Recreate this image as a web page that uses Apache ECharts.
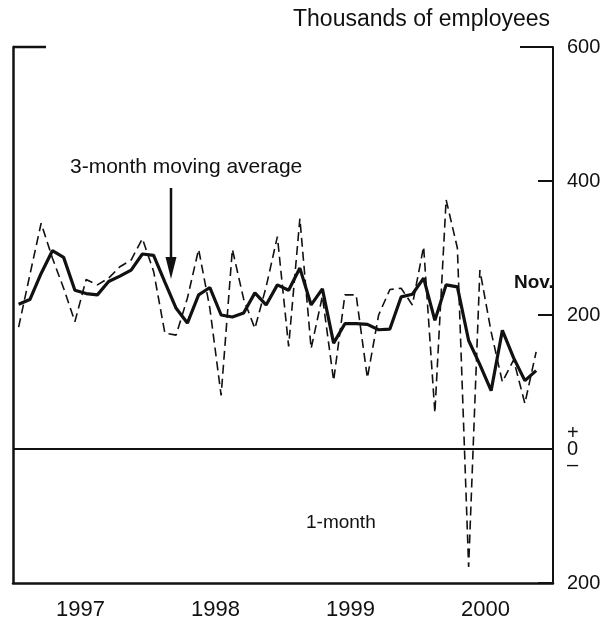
<!DOCTYPE html>
<html>
<head>
<meta charset="utf-8">
<script src="https://cdn.jsdelivr.net/npm/echarts@6/dist/echarts.min.js"></script>
<style>
  html, body { margin: 0; padding: 0; background: #fff; }
  #chart { width: 612px; height: 617px; }
</style>
</head>
<body>
<div id="chart"></div>
<script>
// monthly, Jan 1997 .. Dec 2000 (Dec 2000 not yet reported)
const months = []
for (let y = 1997; y <= 2000; y++) {
  for (let m = 1; m <= 12; m++) months.push(y + '-' + m)
}
const years = ['1997', '1998', '1999', '2000']

// 1-month change, thousands of employees
const oneMonth = [
  182, 260, 337, 285, 240, 190, 253, 245, 255, 272, 282, 314,
  265, 173, 170, 225, 298, 210, 80, 298, 224, 180, 242, 317,
  153, 344, 150, 228, 102, 230, 230, 106, 200, 238, 240, 215,
  302, 54, 372, 300, -176, 267, 175, 100, 133, 68, 145, null
]

// 3-month moving average
const threeMonth = [
  216, 223, 262, 296, 286, 237, 232, 230, 250, 258, 267, 291,
  289, 249, 210, 188, 230, 241, 200, 197, 203, 233, 215, 245,
  237, 270, 215, 239, 158, 187, 187, 186, 178, 179, 227, 231,
  255, 192, 245, 242, 162, 126, 87, 177, 136, 102, 117, null
]

const yTicks = { min: -200, max: 600, step: 200 }

const font = '"Liberation Sans", Arial, sans-serif'
const ink = '#111'

const chart = echarts.init(document.getElementById('chart'))

chart.setOption({
  animation: false,
  grid: { left: 13, right: 59, top: 47, bottom: 34, outerBoundsMode: 'none' },
  xAxis: [
    {
      type: 'category',
      data: months,
      boundaryGap: true,
      axisLine: { onZero: false, lineStyle: { color: ink, width: 2.5 } },
      axisTick: {
        inside: true,
        length: 11,
        interval: (i) => i % 12 === 0,
        lineStyle: { color: ink, width: 2 }
      },
      axisLabel: { show: false },
      splitLine: { show: false }
    },
    {
      type: 'category',
      data: years,
      position: 'bottom',
      boundaryGap: true,
      axisLine: { show: false, onZero: false },
      axisTick: { show: false },
      axisLabel: { color: ink, fontFamily: font, fontSize: 22, margin: 16 },
      splitLine: { show: false }
    }
  ],
  yAxis: [
    {
      type: 'value',
      position: 'right',
      min: yTicks.min,
      max: yTicks.max,
      interval: yTicks.step,
      axisLine: { show: true, lineStyle: { color: ink, width: 2 } },
      axisTick: { show: true, inside: true, length: 15, lineStyle: { color: ink, width: 2 } },
      axisLabel: {
        color: ink,
        fontFamily: font,
        fontSize: 20,
        margin: 14,
        lineHeight: 16,
        formatter: (v) => (v === 0 ? '+\n0\n\u2013' : String(Math.abs(v)))
      },
      splitLine: { show: false }
    },
    {
      type: 'value',
      position: 'left',
      min: yTicks.min,
      max: yTicks.max,
      interval: yTicks.step,
      axisLine: { show: true, lineStyle: { color: ink, width: 2.5 } },
      axisTick: { show: false },
      axisLabel: { show: false },
      splitLine: { show: false }
    }
  ],
  series: [
    {
      name: '1-month',
      type: 'line',
      data: oneMonth,
      symbol: 'none',
      lineStyle: { color: ink, width: 1.6, type: [9, 5] },
      markLine: {
        silent: true,
        symbol: 'none',
        label: { show: false },
        lineStyle: { color: ink, width: 2, type: 'solid' },
        data: [{ yAxis: 0 }]
      }
    },
    {
      name: '3-month moving average',
      type: 'line',
      data: threeMonth,
      symbol: 'none',
      lineStyle: { color: ink, width: 3.2 }
    }
  ],
  graphic: [
    { type: 'line', shape: { x1: 13, y1: 47, x2: 46, y2: 47 }, style: { stroke: ink, lineWidth: 2.5 } },
    { type: 'line', shape: { x1: 520, y1: 47, x2: 553, y2: 47 }, style: { stroke: ink, lineWidth: 2 } },
    {
      type: 'text', x: 550, y: 20,
      style: { text: 'Thousands of employees', fill: ink, font: '23px ' + font, align: 'right', verticalAlign: 'middle' }
    },
    {
      type: 'text', x: 70, y: 167,
      style: { text: '3-month moving average', fill: ink, font: '21px ' + font, align: 'left', verticalAlign: 'middle' }
    },
    { type: 'line', shape: { x1: 171, y1: 188, x2: 171, y2: 262 }, style: { stroke: ink, lineWidth: 2.5 } },
    { type: 'polygon', shape: { points: [[165.5, 257], [176.5, 257], [171, 279]] }, style: { fill: ink } },
    {
      type: 'text', x: 514, y: 283,
      style: { text: 'Nov.', fill: ink, font: 'bold 19px ' + font, align: 'left', verticalAlign: 'middle' }
    },
    {
      type: 'text', x: 306, y: 523,
      style: { text: '1-month', fill: ink, font: '19px ' + font, align: 'left', verticalAlign: 'middle' }
    }
  ]
})
</script>
</body>
</html>
